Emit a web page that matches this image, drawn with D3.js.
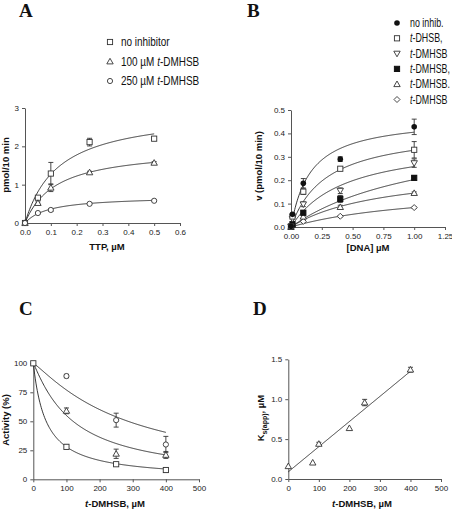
<!DOCTYPE html>
<html><head><meta charset="utf-8">
<script src="https://cdn.jsdelivr.net/npm/d3@7"></script>
<style>
body{margin:0;background:#fff;}
svg{display:block;}
.tick text{font-family:"Liberation Sans",Arial,sans-serif;font-size:8px;fill:#222;}
.domain,.tick line{stroke:#555;stroke-width:1;}
.ttl{font-family:"Liberation Sans",Arial,sans-serif;font-weight:bold;font-size:9.5px;fill:#111;}
.pl{font-family:"Liberation Serif","Times New Roman",serif;font-weight:bold;font-size:19px;fill:#111;}
.leg{font-family:"Liberation Sans",Arial,sans-serif;font-size:12px;fill:#111;}
</style></head><body>
<svg id="c" width="452" height="509"></svg>
<script>
// ---------- Panel A data ----------
const A_x = [0, 0.05, 0.1, 0.25, 0.5];
const A_none = [0, 0.66, 1.29, 2.11, 2.2];
const A_none_err = [0, 0.04, 0.29, 0.1, 0.05];
const A_100 = [0, 0.52, 0.92, 1.32, 1.57];
const A_100_err = [0, 0.03, 0.1, 0.03, 0.03];
const A_250 = [0, 0.26, 0.34, 0.50, 0.58];
const A_250_err = [0, 0.02, 0.04, 0.02, 0.02];
const A_fitV = [2.93, 1.96, 0.70];
const A_fitK = [0.13, 0.12, 0.093];
const A_legend = ["no inhibitor", "100 µM ", "250 µM "];
const A_xticks = [0, 0.1, 0.2, 0.3, 0.4, 0.5, 0.6];
const A_yticks = [0, 1, 2, 3];

// ---------- Panel B data ----------
const B_x = [0, 0.012, 0.1, 0.4, 1.0];
const B_noinhib = [0.003, 0.054, 0.187, 0.29, 0.428];
const B_noinhib_err = [0, 0.005, 0.02, 0.01, 0.033];
const B_dhsb = [0.002, 0.045, 0.151, 0.249, 0.33];
const B_dhsb_err = [0, 0, 0.012, 0.008, 0.035];
const B_dm1 = [0.002, 0.035, 0.097, 0.155, 0.273];
const B_dm1_err = [0, 0, 0.01, 0.012, 0.018];
const B_dm2 = [0.001, 0.012, 0.061, 0.12, 0.21];
const B_dm2_err = [0, 0, 0.008, 0.015, 0.01];
const B_dm3 = [0, 0.008, 0.044, 0.085, 0.145];
const B_dm3_err = [0, 0, 0.005, 0.008, 0.005];
const B_dm4 = [0, 0.005, 0.024, 0.046, 0.083];
const B_dm4_err = [0, 0, 0.004, 0.003, 0.003];
const B_fitV = [0.47, 0.423, 0.372, 0.44, 0.255, 0.178];
const B_fitK = [0.16, 0.289, 0.44, 1.17, 0.76, 1.14];
const B_legend = ["no inhib.", "t-DHSB,", "t-DMHSB", "t-DMHSB,", "t-DMHSB.", "t-DMHSB"];
const B_xticks = [0, 0.25, 0.5, 0.75, 1.0, 1.25];
const B_yticks = [0, 0.1, 0.2, 0.3, 0.4, 0.5];

// ---------- Panel C data ----------
const C_x = [0, 100, 250, 400];
const C_sq = [100, 28, 13, 8];
const C_sq_err = [0, 2, 1, 2];
const C_tri = [100, 59, 22, 21];
const C_tri_err = [0, 2.5, 4, 3];
const C_circ = [100, 89, 51, 30];
const C_circ_err = [0, 1.5, 6, 7];
const C_fitIC = [38.9, 120, 286];
const C_fitH = [1.0, 1.1, 1.15];
const C_xticks = [0, 100, 200, 300, 400, 500];
const C_yticks = [0, 25, 50, 75, 100];

// ---------- Panel D data ----------
const D_x = [0, 80, 100, 200, 250, 400];
const D_y = [0.16, 0.205, 0.44, 0.637, 0.958, 1.37];
const D_err = [0, 0, 0.02, 0, 0.04, 0.03];
const D_fit = [0.09, 0.00315]; // intercept, slope
const D_xticks = [0, 100, 200, 300, 400, 500];
const D_yticks = [0, 0.5, 1.0, 1.5];

const svg = d3.select("#c");
const STK = "#333";

function marker(g, type, x, y) {
  const s = 2.6;
  if (type === "sq") g.append("rect").attr("x", x - s).attr("y", y - s).attr("width", 2*s).attr("height", 2*s).attr("fill", "#fff").attr("stroke", STK).attr("stroke-width", 0.9);
  else if (type === "fsq") g.append("rect").attr("x", x - s).attr("y", y - s).attr("width", 2*s).attr("height", 2*s).attr("fill", "#111").attr("stroke", "#111");
  else if (type === "circ") g.append("circle").attr("cx", x).attr("cy", y).attr("r", 2.6).attr("fill", "#fff").attr("stroke", STK).attr("stroke-width", 0.9);
  else if (type === "fcirc") g.append("circle").attr("cx", x).attr("cy", y).attr("r", 2.8).attr("fill", "#111");
  else if (type === "tri") g.append("path").attr("d", `M${x},${y-3.2}L${x+3.2},${y+2.4}L${x-3.2},${y+2.4}Z`).attr("fill", "#fff").attr("stroke", STK).attr("stroke-width", 0.9);
  else if (type === "dtri") g.append("path").attr("d", `M${x},${y+3.2}L${x+3.2},${y-2.4}L${x-3.2},${y-2.4}Z`).attr("fill", "#fff").attr("stroke", STK).attr("stroke-width", 0.9);
  else if (type === "dia") g.append("path").attr("d", `M${x},${y-3}L${x+3},${y}L${x},${y+3}L${x-3},${y}Z`).attr("fill", "#fff").attr("stroke", STK).attr("stroke-width", 0.9);
}

function series(g, xs, ys, errs, sx, sy, type) {
  xs.forEach((xv, i) => {
    const px = sx(xv), py = sy(ys[i]);
    const e = errs ? errs[i] : 0;
    if (e > 0) {
      const y1 = sy(ys[i] + e), y2 = sy(ys[i] - e);
      g.append("line").attr("x1", px).attr("x2", px).attr("y1", y1).attr("y2", y2).attr("stroke", STK).attr("stroke-width", 0.9);
      [y1, y2].forEach(yy => g.append("line").attr("x1", px - 2.5).attr("x2", px + 2.5).attr("y1", yy).attr("y2", yy).attr("stroke", STK).attr("stroke-width", 0.9));
    }
    marker(g, type, px, py);
  });
}

function curve(g, fn, x0, x1, sx, sy) {
  const pts = d3.range(0, 201).map(i => x0 + (x1 - x0) * i / 200);
  g.append("path").attr("d", d3.line().x(d => sx(d)).y(d => sy(fn(d)))(pts))
    .attr("fill", "none").attr("stroke", "#222").attr("stroke-width", 0.9);
}

function axes(sx, sy, xt, yt, xf, yf) {
  const y0 = sy.range()[0], x0 = sx.range()[0];
  svg.append("g").attr("transform", `translate(0,${y0})`)
    .call(d3.axisBottom(sx).tickValues(xt).tickFormat(xf).tickSize(3).tickSizeOuter(0));
  svg.append("g").attr("transform", `translate(${x0},0)`)
    .call(d3.axisLeft(sy).tickValues(yt).tickFormat(yf).tickSize(3).tickSizeOuter(0));
}

function legText(x, y, scale) {
  return svg.append("text").attr("class", "leg").attr("transform", `translate(${x},${y}) scale(${scale},1)`);
}

// ================= Panel A =================
{
  const sx = d3.scaleLinear().domain([0, 0.6]).range([25, 180]);
  const sy = d3.scaleLinear().domain([0, 3]).range([223, 108]);
  axes(sx, sy, A_xticks, A_yticks, d3.format(".1f"), d3.format("d"));
  const g = svg.append("g");
  [0, 1, 2].forEach(i => curve(g, x => A_fitV[i] * x / (A_fitK[i] + x), 0, 0.5, sx, sy));
  series(g, A_x, A_none, A_none_err, sx, sy, "sq");
  series(g, A_x, A_100, A_100_err, sx, sy, "tri");
  series(g, A_x, A_250, A_250_err, sx, sy, "circ");
  svg.append("text").attr("class", "pl").attr("x", 19).attr("y", 17).text("A");
  svg.append("text").attr("class", "ttl").attr("x", 107).attr("y", 250).attr("text-anchor", "middle").text("TTP, µM");
  svg.append("text").attr("class", "ttl").attr("transform", "translate(9,165) rotate(-90)").attr("text-anchor", "middle").text("pmol/10 min");
  const types = ["sq", "tri", "circ"];
  types.forEach((t, i) => {
    const yy = 42 + i * 19.5;
    marker(svg, t, 110, yy);
    const tx = legText(121, yy + 4, 0.83);
    tx.append("tspan").text(A_legend[i]);
    if (i > 0) { tx.append("tspan").attr("font-style", "italic").text("t"); tx.append("tspan").text("-DMHSB"); }
  });
}

// ================= Panel B =================
{
  const sx = d3.scaleLinear().domain([0, 1.25]).range([291, 445]);
  const sy = d3.scaleLinear().domain([0, 0.5]).range([227, 110]);
  axes(sx, sy, B_xticks, B_yticks, d3.format(".2f"), d3.format(".1f"));
  const g = svg.append("g");
  B_fitV.forEach((v, i) => curve(g, x => v * x / (B_fitK[i] + x), 0, 1.0, sx, sy));
  const sets = [[B_noinhib, B_noinhib_err, "fcirc"], [B_dhsb, B_dhsb_err, "sq"], [B_dm1, B_dm1_err, "dtri"],
                [B_dm2, B_dm2_err, "fsq"], [B_dm3, B_dm3_err, "tri"], [B_dm4, B_dm4_err, "dia"]];
  sets.slice().reverse().forEach(s => series(g, B_x, s[0], s[1], sx, sy, s[2]));
  svg.append("text").attr("class", "pl").attr("x", 247).attr("y", 17).text("B");
  svg.append("text").attr("class", "ttl").attr("x", 368).attr("y", 251).attr("text-anchor", "middle").text("[DNA] µM");
  svg.append("text").attr("class", "ttl").attr("transform", "translate(262,166) rotate(-90)").attr("text-anchor", "middle").text("v (pmol/10 min)");
  sets.forEach((s, i) => {
    const yy = 23 + i * 15.3;
    marker(svg, s[2], 397, yy);
    const lab = B_legend[i];
    const tx = legText(410, yy + 4, 0.74);
    if (lab.startsWith("t-")) { tx.append("tspan").attr("font-style", "italic").text("t"); tx.append("tspan").text(lab.slice(1)); }
    else tx.text(lab);
  });
}

// ================= Panel C =================
{
  const sx = d3.scaleLinear().domain([0, 500]).range([33.3, 199]);
  const sy = d3.scaleLinear().domain([0, 100]).range([479.3, 363.3]);
  axes(sx, sy, C_xticks, C_yticks, d3.format("d"), d3.format("d"));
  const g = svg.append("g");
  C_fitIC.forEach((ic, i) => curve(g, x => 100 / (1 + Math.pow(x / ic, C_fitH[i])), 0, 400, sx, sy));
  series(g, C_x.slice(1), C_circ.slice(1), C_circ_err.slice(1), sx, sy, "circ");
  series(g, C_x.slice(1), C_tri.slice(1), C_tri_err.slice(1), sx, sy, "tri");
  series(g, C_x, C_sq, C_sq_err, sx, sy, "sq");
  svg.append("text").attr("class", "pl").attr("x", 19).attr("y", 315).text("C");
  const xt = svg.append("text").attr("class", "ttl").attr("x", 115).attr("y", 507).attr("text-anchor", "middle");
  xt.append("tspan").attr("font-style", "italic").text("t"); xt.append("tspan").text("-DMHSB, µM");
  svg.append("text").attr("class", "ttl").attr("transform", "translate(9,420) rotate(-90)").attr("text-anchor", "middle").text("Activity (%)");
}

// ================= Panel D =================
{
  const sx = d3.scaleLinear().domain([0, 500]).range([288.3, 441]);
  const sy = d3.scaleLinear().domain([0, 1.5]).range([479, 359.3]);
  axes(sx, sy, D_xticks, D_yticks, d3.format("d"), d3.format(".1f"));
  const g = svg.append("g");
  curve(g, x => D_fit[0] + D_fit[1] * x, 0, 400, sx, sy);
  series(g, D_x, D_y, D_err, sx, sy, "tri");
  svg.append("text").attr("class", "pl").attr("x", 253).attr("y", 315).text("D");
  const xt = svg.append("text").attr("class", "ttl").attr("x", 362).attr("y", 507).attr("text-anchor", "middle");
  xt.append("tspan").attr("font-style", "italic").text("t"); xt.append("tspan").text("-DMHSB, µM");
  const yt = svg.append("text").attr("class", "ttl").attr("transform", "translate(264,418) rotate(-90)").attr("text-anchor", "middle");
  yt.append("tspan").text("K");
  yt.append("tspan").attr("font-size", "7px").attr("dy", 2.5).text("s(app)");
  yt.append("tspan").attr("dy", -2.5).text(", µM");
}
</script>
</body></html>
